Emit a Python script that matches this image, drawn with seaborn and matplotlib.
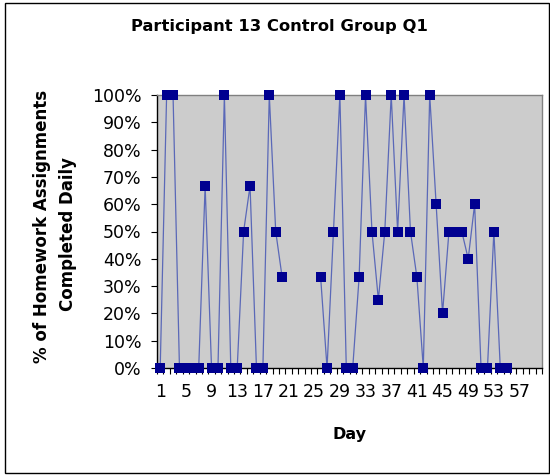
import numpy as np
import pandas as pd
import matplotlib
matplotlib.use("Agg")
import matplotlib.pyplot as plt
import seaborn as sns
from matplotlib.ticker import PercentFormatter
from matplotlib.patches import Rectangle

# ---- data ----
days = list(range(1, 61))
pct_completed = [
    0.0, 1.0, 1.0, 0.0, 0.0, 0.0, 0.0, 0.667, 0.0, 0.0,      # 1-10
    1.0, 0.0, 0.0, 0.5, 0.667, 0.0, 0.0, 1.0, 0.5, 0.333,    # 11-20
    None, None, None, None, None, 0.333, 0.0, 0.5, 1.0, 0.0, # 21-30
    0.0, 0.333, 1.0, 0.5, 0.25, 0.5, 1.0, 0.5, 1.0, 0.5,     # 31-40
    0.333, 0.0, 1.0, 0.6, 0.2, 0.5, 0.5, 0.5, 0.4, 0.6,      # 41-50
    0.0, 0.0, 0.5, 0.0, 0.0, None, None, None, None, None,   # 51-60
]
x_tick_days = list(range(1, 58, 4))
y_ticks = [i / 10 for i in range(11)]

title = "Participant 13 Control Group Q1"
ylabel_lines = ["% of Homework Assignments", "Completed Daily"]
xlabel = "Day"

sns.set_style("white")
plt.rcParams["font.family"] = ["DejaVu Sans"]
plt.rcParams["text.color"] = "black"
plt.rcParams["xtick.color"] = "black"
plt.rcParams["ytick.color"] = "black"
plt.rcParams["xtick.labelcolor"] = "black"
plt.rcParams["ytick.labelcolor"] = "black"

W, H = 550, 475
fig = plt.figure(figsize=(W / 100, H / 100), dpi=100)
fig.patch.set_facecolor("white")

L, R, T, B = 157, 542, 95, 368
ax = fig.add_axes([L / W, 1 - B / H, (R - L) / W, (B - T) / H])
ax.set_facecolor("#CCCCCC")

df = pd.DataFrame({"day": days, "pct": pct_completed}, dtype=float)
df["block"] = df["pct"].isna().cumsum()
d = df.dropna()

sns.lineplot(data=d, x="day", y="pct", units="block", estimator=None,
             color="#5A68B8", lw=0.9, ax=ax, legend=False, zorder=2)
sns.scatterplot(data=d, x="day", y="pct", marker="s", s=46, color="#000090",
                edgecolor="#000090", linewidth=0, ax=ax, clip_on=False,
                zorder=3, legend=False)

ax.set_xlim(0.5, 60.5)
ax.set_ylim(0, 1)
ax.set_xlabel("")
ax.set_ylabel("")

ax.set_xticks(x_tick_days)
ax.set_xticklabels([str(v) for v in x_tick_days])
ax.set_xticks(np.arange(0.5, 61, 1), minor=True)
ax.tick_params(axis="x", which="major", length=0, pad=11, labelsize=12.5,
               labelcolor="black")
ax.tick_params(axis="x", which="minor", length=4, width=0.8, color="black",
               direction="out", bottom=True)

ax.set_yticks(y_ticks)
ax.yaxis.set_major_formatter(PercentFormatter(xmax=1, decimals=0))
ax.tick_params(axis="y", which="major", length=4, width=0.8, color="black",
               direction="out", left=True, pad=7, labelsize=12.5,
               labelcolor="black")

for s in ["left", "bottom"]:
    ax.spines[s].set_color("black")
    ax.spines[s].set_linewidth(1.0)
for s in ["top", "right"]:
    ax.spines[s].set_color("#808080")
    ax.spines[s].set_linewidth(1.0)

fig.text(279 / W, 1 - 27 / H, title, ha="center", va="center",
         fontsize=11.8, fontweight="bold", color="black")
fig.text(42 / W, 1 - 226 / H, ylabel_lines[0], rotation=90, ha="center",
         va="center", fontsize=12, fontweight="bold", color="black")
fig.text(68 / W, 1 - 234 / H, ylabel_lines[1], rotation=90, ha="center",
         va="center", fontsize=12, fontweight="bold", color="black")
fig.text(349 / W, 1 - 434 / H, xlabel, ha="center", va="center",
         fontsize=11.5, fontweight="bold", color="black")

fig.patches.append(Rectangle((5 / W, 2 / H), (W - 6) / W, (H - 5) / H,
                             transform=fig.transFigure, fill=False,
                             edgecolor="black", linewidth=1.0))

fig.savefig("out.png", dpi=100)
